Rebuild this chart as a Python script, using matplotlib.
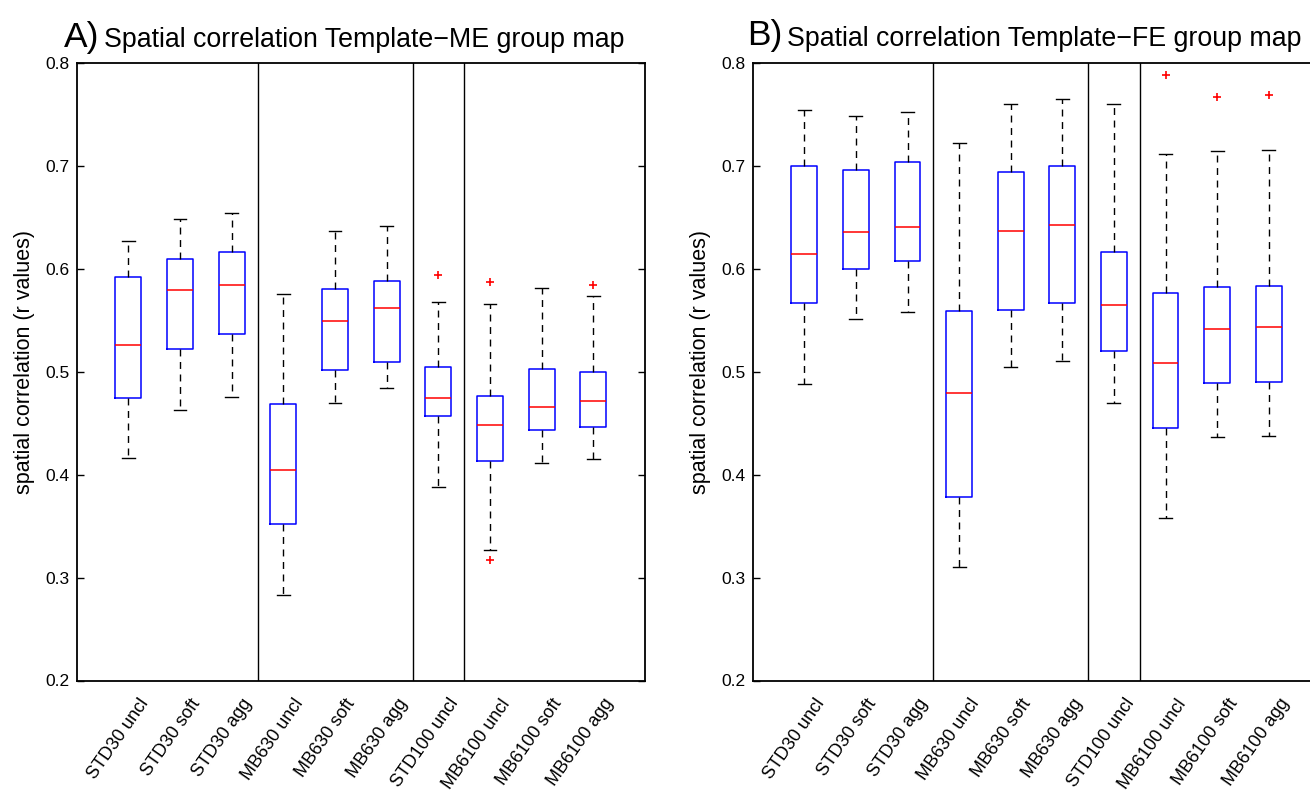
import matplotlib
matplotlib.use("Agg")
import matplotlib.pyplot as plt
from matplotlib.transforms import ScaledTranslation

plt.rcParams["font.family"] = ["Liberation Sans", "DejaVu Sans"]

conditions = ["STD30 uncl", "STD30 soft", "STD30 agg",
              "MB630 uncl", "MB630 soft", "MB630 agg",
              "STD100 uncl",
              "MB6100 uncl", "MB6100 soft", "MB6100 agg"]

# Template vs. ME group map: per-condition box statistics
me_whislo = [0.416, 0.463, 0.4755, 0.2826, 0.470, 0.484, 0.3877, 0.3272, 0.4113, 0.4152]
me_q1     = [0.4746, 0.522, 0.537, 0.352, 0.5015, 0.5096, 0.4566, 0.4136, 0.4437, 0.4463]
me_med    = [0.526, 0.579, 0.584, 0.404, 0.549, 0.5614, 0.4744, 0.4479, 0.4657, 0.4718]
me_q3     = [0.592, 0.609, 0.616, 0.4687, 0.580, 0.5877, 0.5049, 0.476, 0.5023, 0.500]
me_whishi = [0.627, 0.648, 0.654, 0.575, 0.6366, 0.6418, 0.5676, 0.5657, 0.581, 0.5738]
me_fliers = [[], [], [], [], [], [], [0.5935], [0.587, 0.3168], [], [0.5845]]

# Template vs. FE group map: per-condition box statistics
fe_whislo = [0.4881, 0.5513, 0.5575, 0.3106, 0.5043, 0.5108, 0.4697, 0.3575, 0.4363, 0.4376]
fe_q1     = [0.5662, 0.600, 0.607, 0.378, 0.560, 0.5669, 0.5197, 0.4454, 0.4885, 0.4895]
fe_med    = [0.6145, 0.6356, 0.6407, 0.4794, 0.6362, 0.6423, 0.5651, 0.508, 0.5413, 0.543]
fe_q3     = [0.6994, 0.6961, 0.7036, 0.5591, 0.6942, 0.6994, 0.6163, 0.5767, 0.5819, 0.5835]
fe_whishi = [0.7538, 0.7486, 0.7518, 0.7217, 0.7596, 0.7645, 0.7602, 0.7113, 0.7142, 0.7155]
fe_fliers = [[], [], [], [], [], [], [], [0.7878], [0.7664], [0.7687]]

group_breaks = [3.5, 6.5, 7.5]
yticks = [0.2, 0.3, 0.4, 0.5, 0.6, 0.7, 0.8]

W, H = 1310, 790
DPI = 100
fig = plt.figure(figsize=(W / DPI, H / DPI), dpi=DPI)


def px_rect(left, top, right, bottom):
    return [left / W, 1 - bottom / H, (right - left) / W, (bottom - top) / H]


def draw_panel(ax, whislo, q1, med, q3, whishi, fliers):
    stats = []
    for i, lab in enumerate(conditions):
        stats.append(dict(label=lab, whislo=whislo[i], q1=q1[i], med=med[i],
                          q3=q3[i], whishi=whishi[i], fliers=fliers[i]))
    positions = list(range(1, len(conditions) + 1))
    ax.bxp(stats, positions=positions, widths=0.5, capwidths=0.25,
           showfliers=True, manage_ticks=False,
           boxprops=dict(color="#0000ff", linewidth=1.1),
           medianprops=dict(color="#ff0000", linewidth=1.1),
           whiskerprops=dict(color="black", linewidth=1.0,
                             linestyle=(0, (5, 4))),
           capprops=dict(color="black", linewidth=1.0),
           flierprops=dict(marker="+", markeredgecolor="#ff0000",
                           markersize=6, markeredgewidth=1.2,
                           linestyle="none"))
    for xb in group_breaks:
        ax.axvline(xb, color="black", linewidth=1.0)
    ax.set_xlim(0, 11)
    ax.set_ylim(0.2, 0.8)
    ax.set_yticks(yticks)
    ax.set_yticklabels([f"{v:.1f}" for v in yticks])
    ax.set_xticks(positions)
    ax.set_xticklabels([])
    ax.tick_params(axis="x", length=0)
    ax.tick_params(axis="y", direction="in", left=True, right=True,
                   length=5, width=1.0, labelsize=12.5, pad=5)
    for s in ax.spines.values():
        s.set_linewidth(1.3)
    ax.set_ylabel("spatial correlation (r values)", fontsize=15.5)
    ax.yaxis.set_label_coords(-0.074, 0.515)

    # slanted category names under each box
    shift = ScaledTranslation(17 / DPI, -20 / DPI, fig.dpi_scale_trans)
    trans = ax.get_xaxis_transform() + shift
    for x, lab in zip(positions, conditions):
        ax.text(x, 0, lab, transform=trans, rotation=55, ha="right",
                va="center", rotation_mode="anchor", fontsize=13)


axA = fig.add_axes(px_rect(76.7, 62.8, 645, 680.5))
draw_panel(axA, me_whislo, me_q1, me_med, me_q3, me_whishi, me_fliers)

axB = fig.add_axes(px_rect(752.7, 62.8, 1320.3, 680.5))
draw_panel(axB, fe_whislo, fe_q1, fe_med, fe_q3, fe_whishi, fe_fliers)

# Panel titles: large letter followed by the description
fig.text(63.5 / W, 1 - 46.6 / H, "A)", fontsize=25.5, ha="left", va="baseline")
fig.text(104 / W, 1 - 46.6 / H, "Spatial correlation Template\u2212ME group map",
         fontsize=19.3, ha="left", va="baseline")
fig.text(747.5 / W, 1 - 45.5 / H, "B)", fontsize=25.5, ha="left", va="baseline")
fig.text(787 / W, 1 - 45.5 / H, "Spatial correlation Template\u2212FE group map",
         fontsize=19.3, ha="left", va="baseline")

fig.savefig("out.png", dpi=DPI)
